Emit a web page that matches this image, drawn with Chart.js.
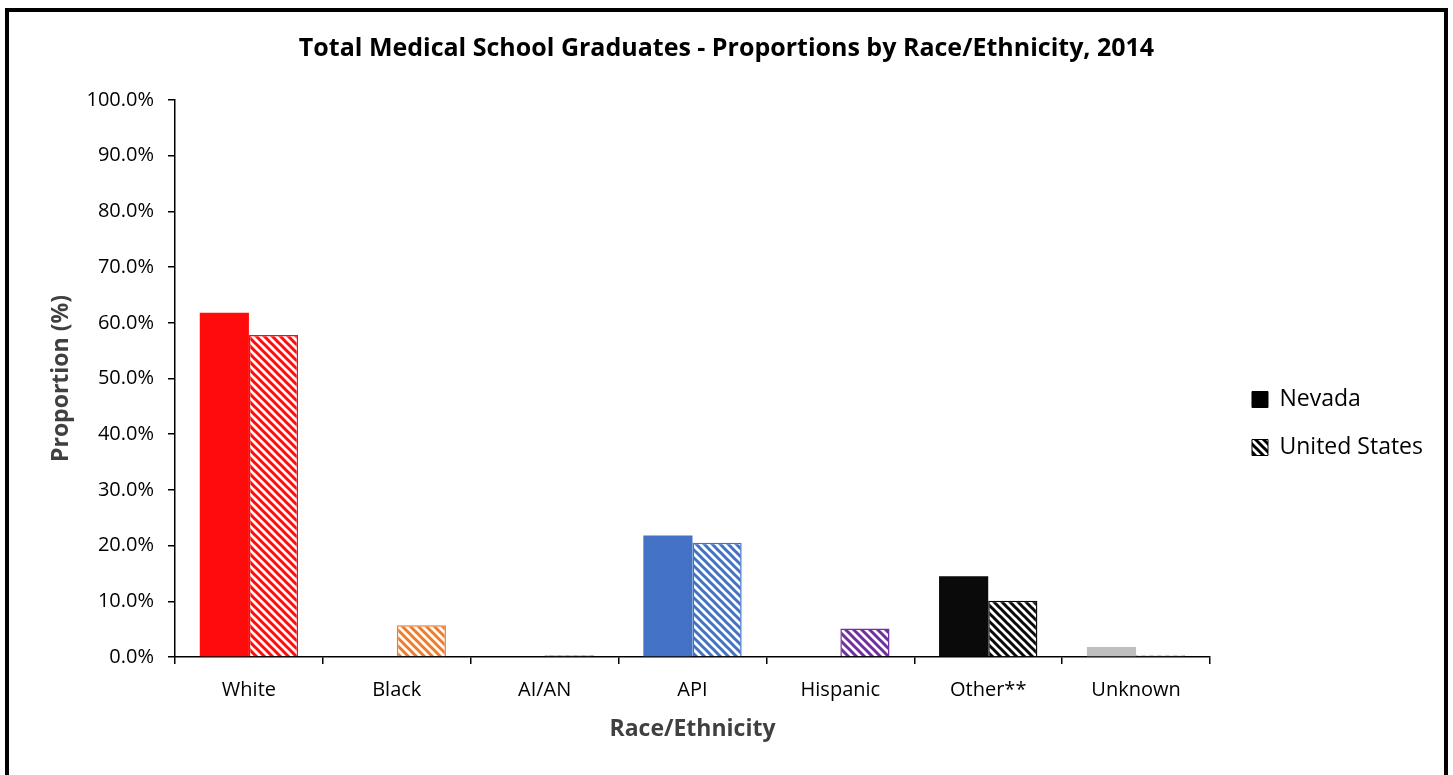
<!DOCTYPE html>
<html>
<head>
<meta charset="utf-8">
<script src="https://cdn.jsdelivr.net/npm/chart.js@4.4.1/dist/chart.umd.min.js"></script>
<style>
  body { margin: 0; background: #fff; overflow: hidden; }
  #wrap { position: relative; width: 1453px; height: 775px; }
  #frame { position: absolute; left: 5px; top: 8px; width: 1435px; height: 800px; border: 4px solid #000; }
  #myBarplot { position: absolute; left: 0; top: 0; }
</style>
</head>
<body>
<div id="wrap">
  <div id="frame"></div>
  <canvas id="myBarplot" width="1453" height="775"></canvas>
</div>
<script>
// Данни от графиката
const categories = ['White', 'Black', 'AI/AN', 'API', 'Hispanic', 'Other**', 'Unknown'];
const nevada = [61.8, 0, 0, 21.8, 0, 14.5, 1.8];
const unitedStates = [57.8, 5.7, 0.3, 20.5, 5.1, 10.1, 0.4];
const barColors = ['#FF0B0B', '#ED7D31', '#4E9A2A', '#4472C4', '#7030A0', '#0A0A0A', '#BFBFBF'];
const yTicks = [0, 10, 20, 30, 40, 50, 60, 70, 80, 90, 100];

const font = "'Open Sans', Lato, sans-serif";

// Шарка с диагонални линии за САЩ
function hatch(color) {
    const c = document.createElement('canvas');
    c.width = 8;
    c.height = 8;
    const ctx = c.getContext('2d');
    ctx.fillStyle = '#fff';
    ctx.fillRect(0, 0, 8, 8);
    ctx.strokeStyle = color;
    ctx.lineWidth = 3;
    ctx.beginPath();
    ctx.moveTo(-2, -2); ctx.lineTo(10, 10);
    ctx.moveTo(-6, 2); ctx.lineTo(2, 10);
    ctx.moveTo(6, -2); ctx.lineTo(14, 6);
    ctx.stroke();
    return ctx.createPattern(c, 'repeat');
}

const hatchColors = barColors.map(hatch);
const blackHatch = hatch('#000');

new Chart(document.getElementById('myBarplot'), {
    type: 'bar',
    data: {
        labels: categories,
        datasets: [{
            label: 'Nevada',
            data: nevada,
            backgroundColor: barColors,
            borderWidth: 0,
            barPercentage: 1,
            categoryPercentage: 0.665
        }, {
            label: 'United States',
            data: unitedStates,
            backgroundColor: hatchColors,
            borderColor: barColors,
            borderWidth: 1.5,
            barPercentage: 1,
            categoryPercentage: 0.665
        }]
    },
    options: {
        responsive: false,
        animation: false,
        layout: { padding: { left: 20, top: 0, right: 20, bottom: 28 } },
        scales: {
            y: {
                min: 0,
                max: 100,
                afterBuildTicks: s => { s.ticks = yTicks.map(v => ({ value: v })); },
                afterFit: s => { s.width = 155; },
                ticks: {
                    color: '#000',
                    padding: 14,
                    font: { family: font, size: 20 },
                    callback: v => v.toFixed(1) + '%'
                },
                grid: { drawOnChartArea: false, tickLength: 7, color: '#000', lineWidth: 1.5 },
                border: { color: '#000', width: 1.5 },
                title: {
                    display: true,
                    text: 'Proportion (%)',
                    color: '#404040',
                    padding: { top: 28, bottom: 4 },
                    font: { family: font, size: 23, weight: 'bold' }
                }
            },
            // празна ос отдясно - само за разстояние до легендата
            gap: {
                position: 'right',
                afterFit: s => { s.width = 17; },
                ticks: { display: false },
                grid: { display: false },
                border: { display: false }
            },
            x: {
                afterFit: s => { s.height = 90; },
                ticks: {
                    color: '#000',
                    padding: 14,
                    font: { family: font, size: 20 }
                },
                grid: { offset: true, drawOnChartArea: false, tickLength: 7, color: '#000', lineWidth: 1.5 },
                border: { color: '#000', width: 1.5 },
                title: {
                    display: true,
                    text: 'Race/Ethnicity',
                    color: '#404040',
                    padding: { top: 10 },
                    font: { family: font, size: 23, weight: 'bold' }
                }
            }
        },
        plugins: {
            title: {
                display: true,
                text: 'Total Medical School Graduates - Proportions by Race/Ethnicity, 2014',
                color: '#000',
                padding: { top: 34, bottom: 36 },
                font: { family: font, size: 25, weight: 'bold' }
            },
            legend: {
                position: 'right',
                title: {
                    display: true,
                    text: ' ',
                    padding: { top: 38, bottom: 38 },
                    font: { family: font, size: 20 }
                },
                labels: {
                    color: '#000',
                    boxWidth: 16,
                    boxHeight: 16,
                    padding: 25,
                    font: { family: font, size: 23 },
                    generateLabels: () => [
                        { text: 'Nevada', fillStyle: '#000', strokeStyle: '#000', fontColor: '#000', lineWidth: 1, datasetIndex: 0 },
                        { text: 'United States', fillStyle: blackHatch, strokeStyle: '#000', fontColor: '#000', lineWidth: 1, datasetIndex: 1 }
                    ]
                }
            },
            tooltip: { enabled: false }
        }
    }
});
</script>
</body>
</html>
